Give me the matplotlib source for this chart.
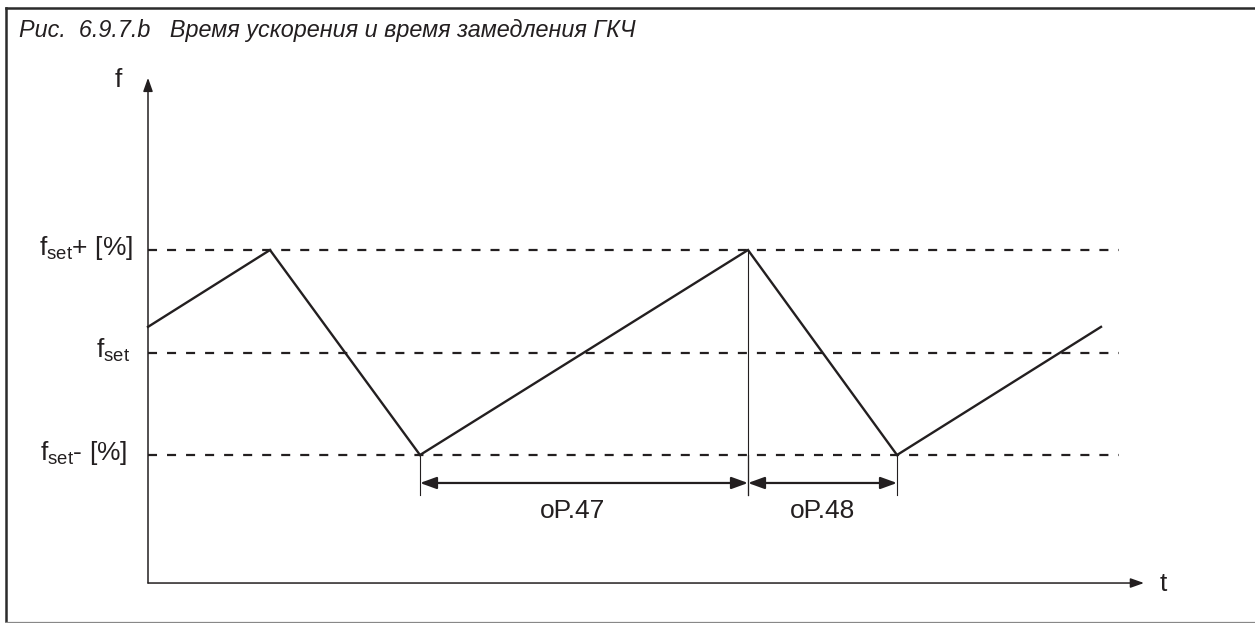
import matplotlib.pyplot as plt
from matplotlib.lines import Line2D

# dados do diagrama (tempo em unidades arbitrarias, freq: 0 = fset-, 1 = fset, 2 = fset+)
t_knots = [0, 1.22, 2.72, 6.00, 7.49, 9.53]
f_knots = [1.25, 2, 0, 2, 0, 1.25]
levels = [2, 1, 0]
level_labels = [r'f$_{\mathregular{set}}$+ [%]', r'f$_{\mathregular{set}}$', r'f$_{\mathregular{set}}$- [%]']
level_label_x = [-0.15, -0.18, -0.21]
intervals = [(2.72, 6.00), (6.00, 7.49)]
interval_labels = ['oP.47', 'oP.48']
interval_label_x = [4.25, 6.745]
title = 'Рис.  6.9.7.b   Время ускорения и время замедления ГКЧ'

INK = '#231f20'
W, H = 1255, 623

plt.rcParams['font.family'] = ['Liberation Sans', 'DejaVu Sans']
plt.rcParams['mathtext.fontset'] = 'custom'
plt.rcParams['mathtext.rm'] = 'Liberation Sans'
plt.rcParams['lines.scale_dashes'] = False

fig = plt.figure(figsize=(W / 100, H / 100), dpi=100)
ax = fig.add_axes([0, 0, 1, 1])
ax.set_axis_off()
# 100 px por unidade de tempo, 102.5 px por nivel
ax.set_xlim(-1.48, 11.07)
ax.set_ylim(-1.639, 4.439)

t_end_axis = 9.96
f_axis = -1.249
f_top_axis = 3.68

# eixos com setas
for tip in [(t_end_axis, f_axis), (0, f_top_axis)]:
    ax.annotate('', xy=tip, xytext=(0, f_axis),
                arrowprops=dict(arrowstyle='-|>,head_length=0.45,head_width=0.16', mutation_scale=18,
                                lw=1.1, color=INK, shrinkA=0, shrinkB=0))
ax.text(-0.30, 3.59, 'f', fontsize=19, color=INK, ha='center', va='baseline')
ax.text(10.15, -1.327, 't', fontsize=19, color=INK, ha='center', va='baseline')

# linhas tracejadas dos niveis
for lev, lab, lx in zip(levels, level_labels, level_label_x):
    ax.plot([0, 9.71], [lev, lev], color=INK, lw=1.6, dashes=[6.5, 7.2])
    ax.text(lx, lev - 0.05, lab, fontsize=19, color=INK, ha='right', va='baseline')

# curva da frequencia
ax.plot(t_knots, f_knots, color=INK, lw=1.7, solid_joinstyle='miter')

# cotas oP.47 / oP.48
f_dim = -0.273
f_tick = -0.39
ax.plot([intervals[0][1], intervals[0][1]], [levels[0], f_tick], color=INK, lw=0.8)
for (a, b), lab, lx in zip(intervals, interval_labels, interval_label_x):
    for tt in (a, b):
        ax.plot([tt, tt], [0, f_tick], color=INK, lw=0.8)
    ax.annotate('', xy=(b, f_dim), xytext=(a, f_dim),
                arrowprops=dict(arrowstyle='<|-|>,head_length=0.55,head_width=0.2', mutation_scale=18,
                                lw=1.6, color=INK, shrinkA=0, shrinkB=0))
    ax.text(lx, -0.615, lab, fontsize=19, color=INK, ha='center', va='baseline')

# titulo e moldura
fig.text(19 / W, 1 - 37 / H, title, fontsize=16.8, style='italic', color=INK, ha='left', va='baseline')
fig.add_artist(Line2D([6 / W, 1], [1 - 8 / H, 1 - 8 / H], color='#2b2b2b', lw=1.8))
fig.add_artist(Line2D([6 / W, 6 / W], [1 - 8 / H, 1 - 621 / H], color='#2b2b2b', lw=1.8))
fig.add_artist(Line2D([6 / W, 1], [1 - 621.5 / H, 1 - 621.5 / H], color='#888888', lw=0.9))

plt.savefig('out.png', dpi=100)
